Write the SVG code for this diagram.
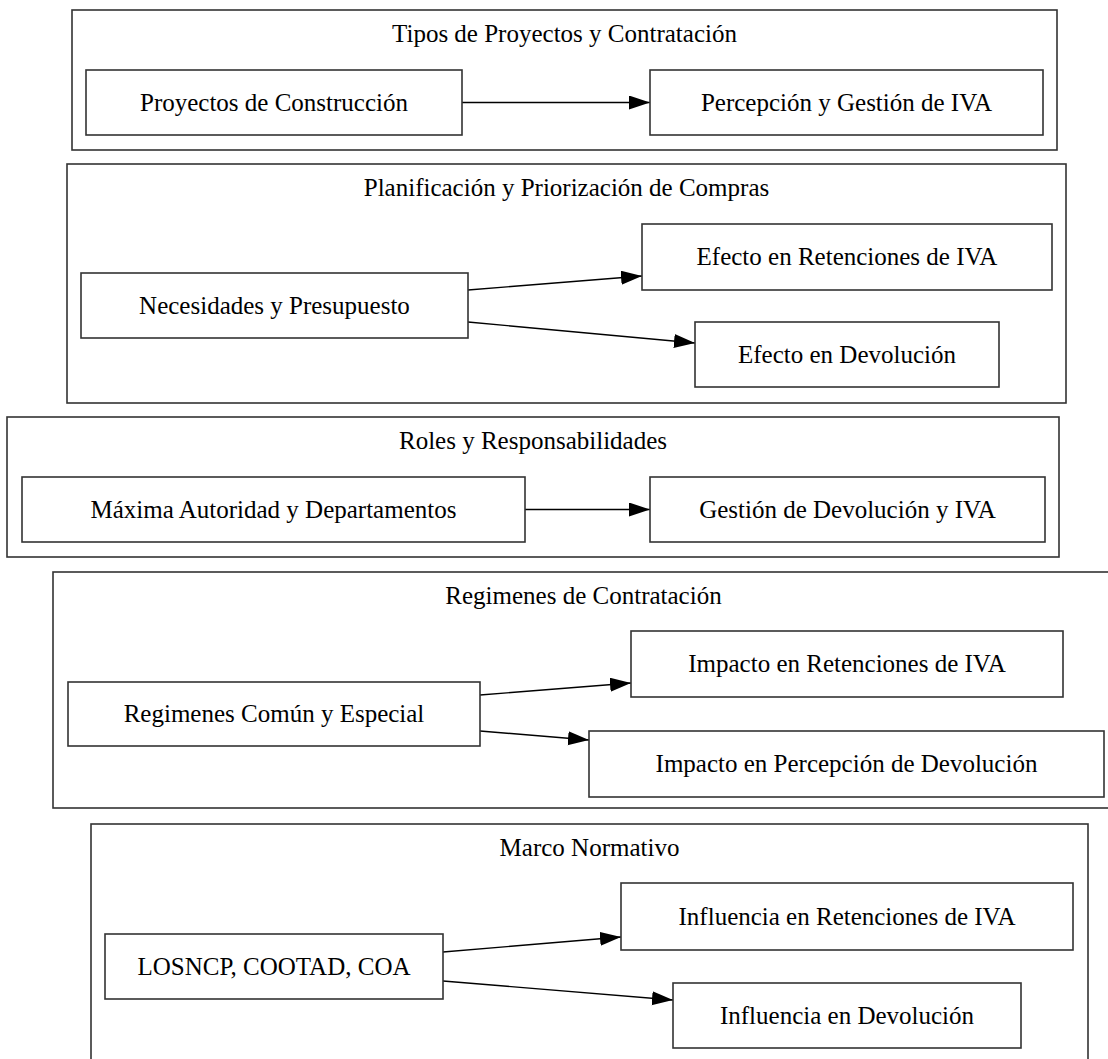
<svg xmlns="http://www.w3.org/2000/svg" width="1108" height="1059" viewBox="0 0 1108 1059">
<style>
.cl{fill:none;stroke:#333;stroke-width:1.6}
.nd{fill:#fff;stroke:#333;stroke-width:1.6}
.tx{font-family:"Liberation Serif","Times New Roman",serif;font-size:25px;fill:#000;text-anchor:middle}
.ed{fill:none;stroke:#000;stroke-width:1.4}
</style>
<defs>
<marker id="ah" markerUnits="userSpaceOnUse" markerWidth="22" markerHeight="16" refX="21" refY="7" orient="auto">
<polygon points="0,0 21,7 0,14" fill="#000"/>
</marker>
</defs>
<rect width="1108" height="1059" fill="#fff"/>
<g id="cluster1">
<rect class="cl" x="72" y="10" width="985" height="140"/>
<text class="tx" x="564.5" y="42">Tipos de Proyectos y Contratación</text>
</g>
<g id="cluster2">
<rect class="cl" x="67" y="164" width="999" height="239"/>
<text class="tx" x="566.5" y="196">Planificación y Priorización de Compras</text>
</g>
<g id="cluster3">
<rect class="cl" x="7" y="417" width="1052" height="140"/>
<text class="tx" x="533" y="449">Roles y Responsabilidades</text>
</g>
<g id="cluster4">
<rect class="cl" x="53" y="572" width="1061" height="236"/>
<text class="tx" x="583.5" y="604">Regimenes de Contratación</text>
</g>
<g id="cluster5">
<rect class="cl" x="91" y="824" width="997" height="250"/>
<text class="tx" x="589.5" y="856">Marco Normativo</text>
</g>
<g id="connectors">
<path class="ed" d="M462,102.5 L650,102.5" marker-end="url(#ah)"/>
<path class="ed" d="M468,290 L642,276" marker-end="url(#ah)"/>
<path class="ed" d="M468,322 L695,343" marker-end="url(#ah)"/>
<path class="ed" d="M525,509.5 L650,509.5" marker-end="url(#ah)"/>
<path class="ed" d="M480,695 L631,683" marker-end="url(#ah)"/>
<path class="ed" d="M480,731 L589,740" marker-end="url(#ah)"/>
<path class="ed" d="M443,952 L621,937" marker-end="url(#ah)"/>
<path class="ed" d="M443,981 L673,1000" marker-end="url(#ah)"/>
</g>
<g id="n_proyectos">
<rect class="nd" x="86" y="70" width="376" height="65"/>
<text class="tx" x="274" y="111">Proyectos de Construcción</text>
</g>
<g id="n_percepcion">
<rect class="nd" x="650" y="70" width="393" height="65"/>
<text class="tx" x="846.5" y="111">Percepción y Gestión de IVA</text>
</g>
<g id="n_necesidades">
<rect class="nd" x="81" y="273" width="387" height="65"/>
<text class="tx" x="274.5" y="314">Necesidades y Presupuesto</text>
</g>
<g id="n_efecto_ret">
<rect class="nd" x="642" y="224" width="410" height="66"/>
<text class="tx" x="847" y="265">Efecto en Retenciones de IVA</text>
</g>
<g id="n_efecto_dev">
<rect class="nd" x="695" y="322" width="304" height="65"/>
<text class="tx" x="847" y="363">Efecto en Devolución</text>
</g>
<g id="n_maxima">
<rect class="nd" x="22" y="477" width="503" height="65"/>
<text class="tx" x="273.5" y="518">Máxima Autoridad y Departamentos</text>
</g>
<g id="n_gestion">
<rect class="nd" x="650" y="477" width="395" height="65"/>
<text class="tx" x="847.5" y="518">Gestión de Devolución y IVA</text>
</g>
<g id="n_regimenes">
<rect class="nd" x="68" y="682" width="412" height="64"/>
<text class="tx" x="274" y="722">Regimenes Común y Especial</text>
</g>
<g id="n_impacto_ret">
<rect class="nd" x="631" y="631" width="432" height="66"/>
<text class="tx" x="847" y="672">Impacto en Retenciones de IVA</text>
</g>
<g id="n_impacto_perc">
<rect class="nd" x="589" y="731" width="515" height="66"/>
<text class="tx" x="846.5" y="772">Impacto en Percepción de Devolución</text>
</g>
<g id="n_losncp">
<rect class="nd" x="105" y="934" width="338" height="65"/>
<text class="tx" x="274" y="975">LOSNCP, COOTAD, COA</text>
</g>
<g id="n_influencia_ret">
<rect class="nd" x="621" y="883" width="452" height="67"/>
<text class="tx" x="847" y="925">Influencia en Retenciones de IVA</text>
</g>
<g id="n_influencia_dev">
<rect class="nd" x="673" y="983" width="348" height="65"/>
<text class="tx" x="847" y="1024">Influencia en Devolución</text>
</g>
</svg>
